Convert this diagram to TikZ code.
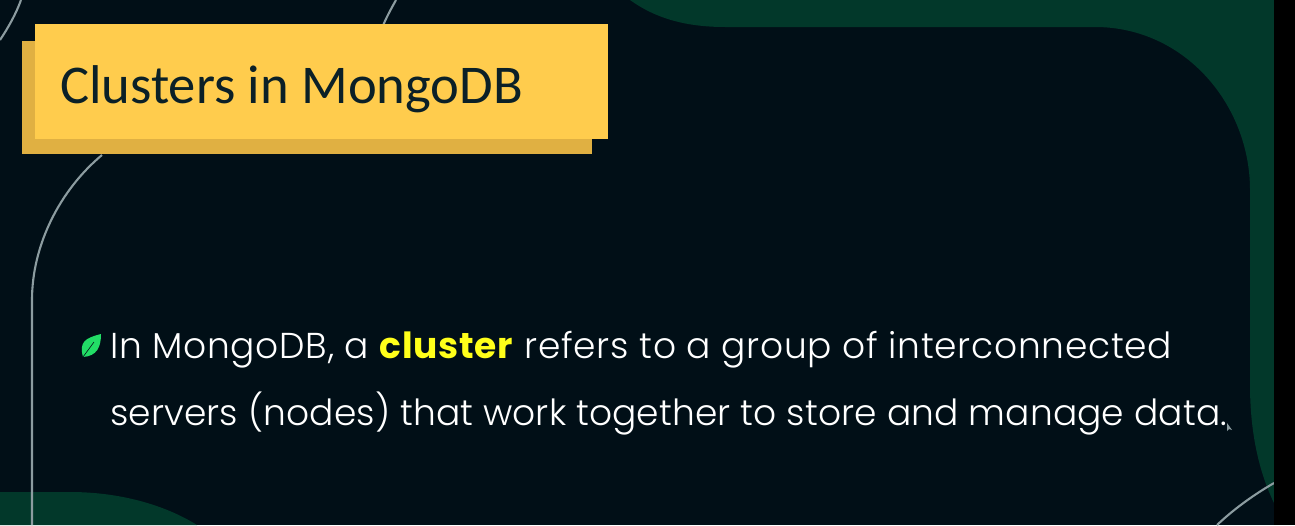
\documentclass[tikz,border=0pt]{standalone}
\usepackage{fontspec}
\setmainfont{Poppins Light}[BoldFont=Poppins Bold,LetterSpace=0.35]
\newfontfamily\titlefont{Carlito}
\newfontfamily\spacedfont{Poppins Light}[LetterSpace=2.0,BoldFont=Poppins Bold]
\definecolor{bgdark}{HTML}{010F17}
\definecolor{deepgreen}{HTML}{02382A}
\definecolor{boxyellow}{HTML}{FFCC4D}
\definecolor{boxshadow}{HTML}{E0B042}
\definecolor{titleink}{HTML}{0B2027}
\definecolor{curveline}{HTML}{8C9CA0}
\definecolor{leafgreen}{HTML}{22DD66}
\definecolor{hilite}{HTML}{FFFF1A}
\tikzset{
  px/.style={x=1pt,y=-1pt},
  bodytext/.style={anchor=base west,inner sep=0pt,text=white,font=\fontsize{36}{36}\selectfont},
  curve/.style={draw=curveline,line width=2.1pt},
}
\begin{document}
\begin{tikzpicture}[px]
\useasboundingbox (0,0) rectangle (1295,525);
\fill[bgdark] (0,0) rectangle (1295,525);
% green regions
\fill[deepgreen] (630,0) .. controls (655,18) and (685,27) .. (725,27) -- (1095,27)
  .. controls (1185,27) and (1250,105) .. (1250,190) -- (1250,385)
  .. controls (1250,430) and (1258,470) .. (1274,503) -- (1274,0) -- cycle;
\fill[deepgreen] (0,492) -- (70,492) .. controls (120,492) and (165,505) .. (197,525) -- (0,525) -- cycle;
% thin curves
\draw[curve] (32,525) -- (32,300) .. controls (32,245) and (60,190) .. (102,155);
\draw[curve] (21,0) .. controls (16,14) and (8,28) .. (0,40);
\draw[curve] (396,0) .. controls (391,9) and (386,18) .. (382,28);
\draw[curve] (1217,525) .. controls (1235,508) and (1255,494) .. (1274,483);
% black strip
\fill[black] (1274,0) rectangle (1295,525);
% title box
\fill[boxshadow] (22,41) rectangle (592,154);
\fill[boxyellow] (35,24) rectangle (608,139);
\node[anchor=base west,inner sep=0pt,text=titleink,font=\titlefont\fontsize{54.6}{54.6}\selectfont] (title) at (60,103) {Clusters in MongoDB};
% leaf
\fill[leafgreen] (83,357) .. controls (79,342) and (85,338) .. (101,334) .. controls (101,347) and (97,356) .. (83,357) -- cycle;
\draw[bgdark,line width=0.6pt] (83,357) -- (94,342);
% text
\node[bodytext] (lineone) at (110,358) {\spacedfont In MongoDB, a \textcolor{hilite}{\textbf{cluster}} refers to a group of interconnected};
\node[bodytext] (linetwo) at (110,425) {servers (nodes) that work together to store and manage data.};
% cursor
\fill[curveline] (1227,423) -- (1227,431) -- (1229,429) -- (1232,430) -- cycle;
\end{tikzpicture}
\end{document}
